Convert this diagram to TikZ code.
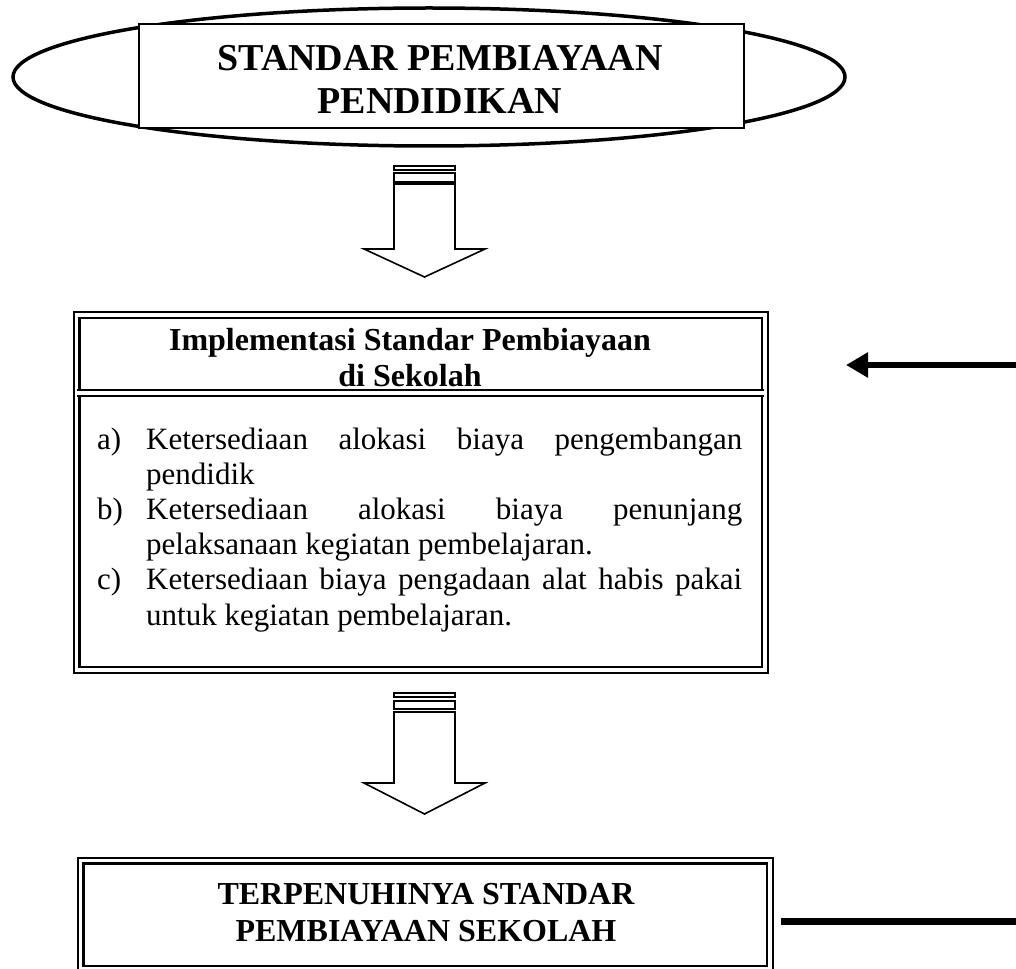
\documentclass[tikz,border=0pt]{standalone}
\usepackage{fontspec}
\setmainfont{Liberation Serif}
\newfontfamily\bodyfont[WordSpace={1,1,2.5}]{Liberation Serif}
\usetikzlibrary{shapes.geometric,arrows.meta}
\begin{document}
\begin{tikzpicture}[x=1pt,y=-1pt,
  oval/.style={draw, ellipse, line width=3.5pt, inner sep=0pt},
  plainbox/.style={draw, fill=white, line width=1.5pt, inner sep=0pt},
  dblbox/.style={draw, line width=2.2pt, double, double distance=3.6pt, inner sep=0pt},
  blockarrow/.style={draw, line width=1.6pt, fill=white, line join=miter},
  txt/.style={anchor=base, inner sep=0pt},
  fatline/.style={line width=6.5pt}]
\useasboundingbox (0,0) rectangle (1016,968);
\clip (0,0) rectangle (1016,968);

% top: ellipse with title box
\node[oval, minimum width=832pt, minimum height=138pt] (oval) at (429,77) {};
\node[plainbox, minimum width=605pt, minimum height=104pt] (titlebox) at (441.5,76) {};
\node[txt] (titletext) at (440,71) {\begin{minipage}[t]{640pt}\centering\fontsize{38}{43}\selectfont\bfseries
STANDAR PEMBIAYAAN\\PENDIDIKAN\end{minipage}};

% first hollow arrow
\draw[blockarrow] (394,166) rectangle (455,170);
\draw[blockarrow] (394,173) rectangle (455,182);
\draw[blockarrow] (394,184) -- (394,249) -- (364,249) -- (424.5,277) -- (485,249) -- (455,249) -- (455,184) -- cycle;

% middle box
\node[dblbox, minimum width=688.5pt, minimum height=355pt] (impl) at (420.75,492.5) {};
\coordinate (sepL) at (77,393);
\coordinate (sepR) at (764,393);
\draw[line width=2pt, double, double distance=3.8pt] (sepL) -- (sepR);
\node[txt] (impltitle) at (410,350) {\begin{minipage}[t]{640pt}\centering\fontsize{32}{36}\selectfont\bfseries
Implementasi Standar Pembiayaan\\di Sekolah\end{minipage}};
\node[anchor=base west, inner sep=0pt] (impllist) at (97,449) {\begin{minipage}[t]{645pt}%
\bodyfont\fontsize{31}{35.2}\selectfont\parindent=0pt\hyphenpenalty=10000\exhyphenpenalty=10000\tolerance=10000%
\hangindent=49pt\hangafter=1\makebox[49pt][l]{a)}Ketersediaan alokasi biaya pengembangan pendidik\par
\hangindent=49pt\hangafter=1\makebox[49pt][l]{b)}Ketersediaan alokasi biaya penunjang pelaksanaan kegiatan pembelajaran.\par
\hangindent=49pt\hangafter=1\makebox[49pt][l]{c)}Ketersediaan biaya pengadaan alat habis pakai untuk kegiatan pembelajaran.\par
\end{minipage}};

% feedback arrow on the right
\coordinate (fbstart) at (1016,365);
\coordinate (fbtip) at (846,365);
\draw[fatline, -{Triangle[length=22pt, width=24pt]}] (fbstart) -- (fbtip);

% second hollow arrow
\draw[blockarrow] (394,693) rectangle (455,697);
\draw[blockarrow] (394,701) rectangle (455,709);
\draw[blockarrow] (394,712) -- (394,783) -- (364,783) -- (424.5,814) -- (485,783) -- (455,783) -- (455,712) -- cycle;

% bottom box
\node[dblbox, minimum width=689.5pt, minimum height=108.5pt] (goal) at (425.25,914.75) {};
\node[txt] (goaltext) at (426,904) {\begin{minipage}[t]{640pt}\centering\fontsize{32}{37}\selectfont\bfseries
TERPENUHINYA STANDAR\\PEMBIAYAAN SEKOLAH\end{minipage}};

% line on the right of the bottom box
\coordinate (glstart) at (781,921);
\coordinate (glend) at (1016,921);
\draw[line width=7pt] (glstart) -- (glend);
\end{tikzpicture}
\end{document}
